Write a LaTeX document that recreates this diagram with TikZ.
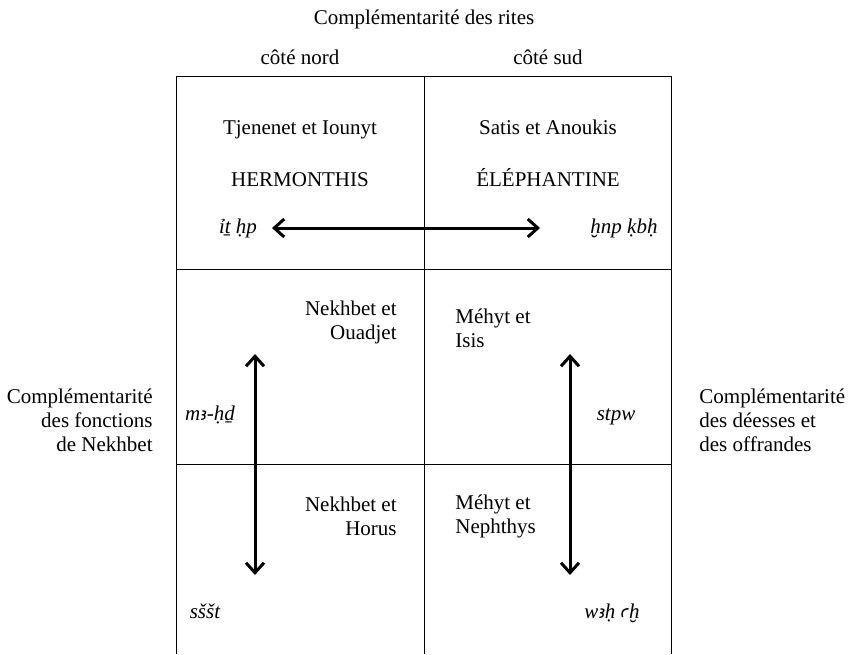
\documentclass[tikz,border=0pt]{standalone}
\usepackage{fontspec}
\setmainfont{Liberation Serif}
\newfontfamily\egyfont[Scale=0.85]{DejaVu Sans}
\newcommand{\alef}{{\egyfont\itshape ꜣ}}
\newcommand{\ayin}{{\egyfont\itshape ꜥ}}
\usetikzlibrary{arrows.meta}

\tikzset{
  txt/.style={inner sep=0pt, font=\fontsize{10.5}{12}\selectfont},
  translit/.style={txt, anchor=base, font=\fontsize{10.5}{12}\selectfont\itshape},
  fleche/.style={line width=1.5pt, {Straight Barb[length=5pt,width=9pt]}-{Straight Barb[length=5pt,width=9pt]}}
}

\begin{document}
\begin{tikzpicture}[x=0.5pt,y=-0.5pt]
\useasboundingbox (0,0) rectangle (855,654);

% le tableau, ouvert en bas
\draw[line width=0.5pt] (176,654) -- (176,76) -- (671,76) -- (671,654);
\draw[line width=0.5pt] (424,76) -- (424,654);
\draw[line width=0.5pt] (176,269) -- (671,269);
\draw[line width=0.5pt] (176,464) -- (671,464);

% titres
\node[txt, anchor=base] (rites) at (424,24) {Complémentarité des rites};
\node[txt, anchor=base] (nord) at (300,64) {côté nord};
\node[txt, anchor=base] (sud) at (548,64) {côté sud};

% rangée du haut
\node[txt, anchor=base] (tjenenet) at (300,134) {Tjenenet et Iounyt};
\node[txt, anchor=base] (hermonthis) at (300,186) {HERMONTHIS};
\node[translit] (itjhp) at (238,233) {ỉṯ ḥp};
\node[txt, anchor=base] (satis) at (548,134) {Satis et Anoukis};
\node[txt, anchor=base] (elephantine) at (548,186) {ÉLÉPHANTINE};
\node[translit] (khnp) at (624,233) {ḫnp ḳbḥ};
\coordinate (hg) at (272,228);
\coordinate (hd) at (540,228);
\draw[fleche] (hg) -- (hd);

% rangée du milieu
\node[txt, anchor=east, align=right] (ouadjet) at (397,322) {Nekhbet et\\Ouadjet};
\node[txt, anchor=west, align=left] (isis) at (455,328) {Méhyt et\\Isis};
\node[translit] (mahd) at (210,420) {m\alef-ḥḏ};
\node[translit] (stpw) at (616,420) {stpw};

% rangée du bas
\node[txt, anchor=east, align=right] (horus) at (397,516) {Nekhbet et\\Horus};
\node[txt, anchor=west, align=left] (nephthys) at (455,516) {Méhyt et\\Nephthys};
\node[translit] (ssst) at (205,618) {sššt};
\node[translit] (wah) at (612,618) {w\alef ḥ \ayin ḫ};

\coordinate (vg1) at (255,354);
\coordinate (vg2) at (255,575);
\draw[fleche] (vg1) -- (vg2);
\coordinate (vd1) at (570,354);
\coordinate (vd2) at (570,575);
\draw[fleche] (vd1) -- (vd2);

% côtés
\node[txt, anchor=east, align=right] (fonctions) at (153,420) {Complémentarité\\des fonctions\\de Nekhbet};
\node[txt, anchor=west, align=left] (deesses) at (699,420) {Complémentarité\\des déesses et\\des offrandes};
\end{tikzpicture}
\end{document}
